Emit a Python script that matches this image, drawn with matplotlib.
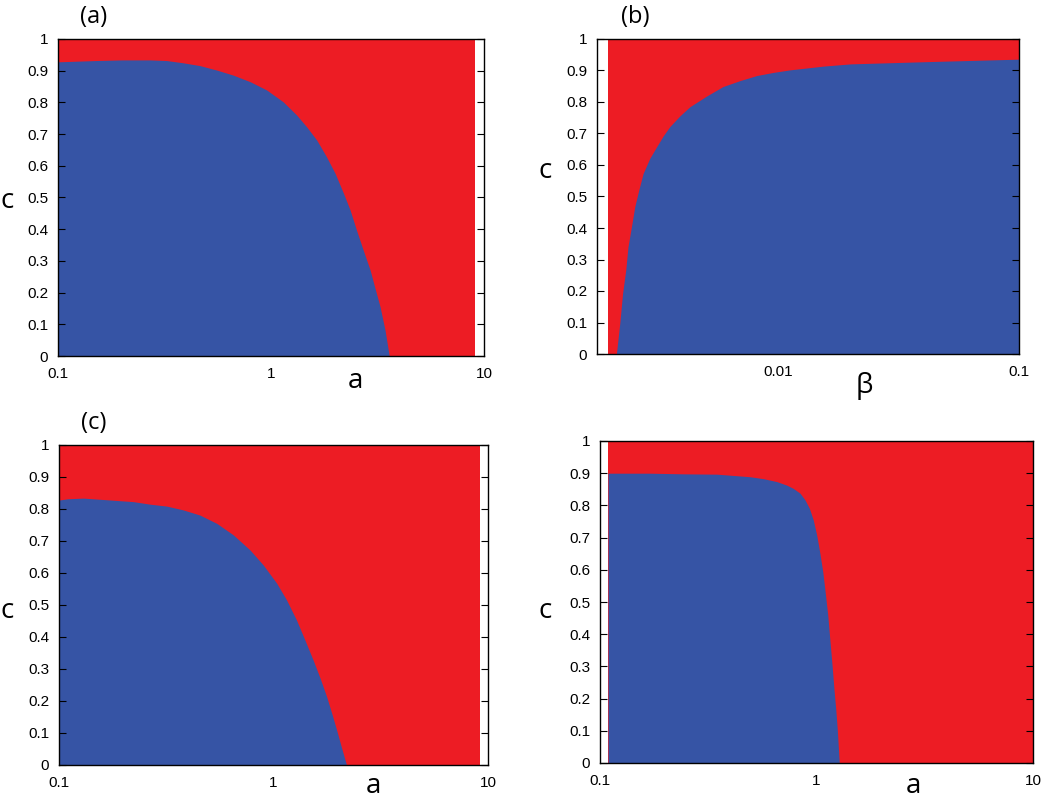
import matplotlib
matplotlib.use("Agg")
import matplotlib.pyplot as plt
from matplotlib.ticker import FixedLocator, FixedFormatter, NullLocator

# ---------------- data ----------------
RED = "#ED1C24"
BLUE = "#3654A5"

# panel (a): boundary c(a)
a_a = [0.1, 0.15, 0.2, 0.27, 0.324, 0.386, 0.464, 0.556, 0.665, 0.80, 0.955, 1.14, 1.32, 1.47,
       1.64, 1.82, 2.0, 2.19, 2.35, 2.52, 2.71, 2.92, 3.08, 3.25, 3.43, 3.59]
c_a = [0.928, 0.932, 0.934, 0.934, 0.932, 0.925, 0.916, 0.902, 0.886, 0.865, 0.839, 0.802, 0.760, 0.723,
       0.681, 0.629, 0.576, 0.513, 0.461, 0.397, 0.334, 0.271, 0.213, 0.156, 0.082, 0.0]
red_a = [0.1, 9.1]

# panel (b): boundary beta(c)
c_b = [0.0, 0.097, 0.192, 0.267, 0.34, 0.404, 0.468, 0.521, 0.573, 0.621, 0.658, 0.692, 0.722,
       0.756, 0.785, 0.819, 0.849, 0.868, 0.884, 0.894, 0.902, 0.914, 0.921, 0.928, 0.936]
beta_b = [0.00213, 0.00220, 0.00226, 0.00233, 0.00238, 0.00246, 0.00254, 0.00264, 0.00275, 0.00293,
          0.00313, 0.00333, 0.00355, 0.00391, 0.0043, 0.00505, 0.0059, 0.00695, 0.00815, 0.00956,
          0.0112, 0.01545, 0.02, 0.041, 0.1]
red_b = [0.00197, 0.1]

# panel (c): boundary c(a)
a_c = [0.1, 0.11, 0.13, 0.222, 0.266, 0.318, 0.38, 0.454, 0.544, 0.650, 0.777, 0.896, 1.035, 1.15,
       1.28, 1.40, 1.53, 1.65, 1.77, 1.87, 1.97, 2.08, 2.19]
c_c = [0.828, 0.832, 0.834, 0.823, 0.815, 0.809, 0.797, 0.781, 0.755, 0.719, 0.672, 0.625, 0.568, 0.516,
       0.453, 0.391, 0.328, 0.271, 0.213, 0.161, 0.109, 0.052, 0.0]
red_c = [0.1, 9.2]

# panel (d): boundary c(a)
a_d = [0.109, 0.17, 0.243, 0.346, 0.413, 0.493, 0.568, 0.655, 0.728, 0.78, 0.839, 0.885, 0.927,
       0.966, 1.002, 1.037, 1.069, 1.094, 1.127, 1.153, 1.18, 1.205, 1.228, 1.248, 1.274]
c_d = [0.9, 0.9, 0.898, 0.897, 0.893, 0.889, 0.883, 0.874, 0.863, 0.853, 0.838, 0.817, 0.791,
       0.755, 0.708, 0.651, 0.594, 0.537, 0.460, 0.382, 0.304, 0.227, 0.165, 0.102, 0.0]
red_d = [0.109, 10.0]

y_ticks = [0, 0.1, 0.2, 0.3, 0.4, 0.5, 0.6, 0.7, 0.8, 0.9, 1]
y_labels = ["0", "0.1", "0.2", "0.3", "0.4", "0.5", "0.6", "0.7", "0.8", "0.9", "1"]
x_ticks_a = [0.1, 1, 10]
x_labels_a = ["0.1", "1", "10"]
x_ticks_b = [0.01, 0.1]
x_labels_b = ["0.01", "0.1"]

# ---------------- figure ----------------
W, H = 1050, 801
fig = plt.figure(figsize=(W / 100, H / 100), dpi=100)
plt.rcParams["font.family"] = ["Liberation Sans", "DejaVu Sans"]


def add_ax(left, top, right, bottom):
    return fig.add_axes([left / W, 1 - bottom / H, (right - left) / W, (bottom - top) / H])


def style(ax, xlim, xt, xl):
    ax.set_xscale("log")
    ax.set_xlim(*xlim)
    ax.set_ylim(0, 1)
    ax.xaxis.set_major_locator(FixedLocator(xt))
    ax.xaxis.set_major_formatter(FixedFormatter(xl))
    ax.xaxis.set_minor_locator(NullLocator())
    ax.yaxis.set_major_locator(FixedLocator(y_ticks))
    ax.yaxis.set_major_formatter(FixedFormatter(y_labels))
    ax.tick_params(axis="y", direction="in", left=True, right=True, length=5, width=0.8,
                   labelsize=11, pad=7)
    ax.tick_params(axis="x", direction="in", bottom=True, top=False, length=0,
                   labelsize=11, pad=8)
    for s in ax.spines.values():
        s.set_linewidth(1.0)
        s.set_color("black")


# (a)
ax1 = add_ax(58, 39, 484, 356)
ax1.fill_between(red_a, 0, 1, color=RED, lw=0)
ax1.fill_between(a_a, 0, c_a, color=BLUE, lw=0)
style(ax1, (0.1, 10), x_ticks_a, x_labels_a)

# (b)
ax2 = add_ax(597, 39, 1019, 354)
ax2.fill_between(red_b, 0, 1, color=RED, lw=0)
ax2.fill_betweenx(c_b, beta_b, 0.1, color=BLUE, lw=0)
style(ax2, (0.00177, 0.1), x_ticks_b, x_labels_b)

# (c)
ax3 = add_ax(59, 445, 488, 765)
ax3.fill_between(red_c, 0, 1, color=RED, lw=0)
ax3.fill_between(a_c, 0, c_c, color=BLUE, lw=0)
style(ax3, (0.1, 10), x_ticks_a, x_labels_a)

# (d)
ax4 = add_ax(600, 441, 1033, 763)
ax4.fill_between(red_d, 0, 1, color=RED, lw=0)
ax4.fill_between(a_d, 0, c_d, color=BLUE, lw=0)
style(ax4, (0.1, 10), x_ticks_a, x_labels_a)


def ftext(x, y, s, size, **kw):
    fig.text(x / W, 1 - y / H, s, fontsize=size, ha="center", va="center",
             family=["Open Sans", "DejaVu Sans"], **kw)


ftext(94, 17, "(a)", 17)
ftext(635, 17, "(b)", 17)
ftext(94, 423, "(c)", 17)

for (x, y) in [(7, 201), (545, 171), (7, 611), (545, 611)]:
    ftext(x, y, "c", 20)

ftext(355, 381, "a", 20)
ftext(864, 386, "β", 20)
ftext(373, 786, "a", 20)
ftext(913, 786, "a", 20)

fig.savefig("out.png", dpi=100, facecolor="white")
